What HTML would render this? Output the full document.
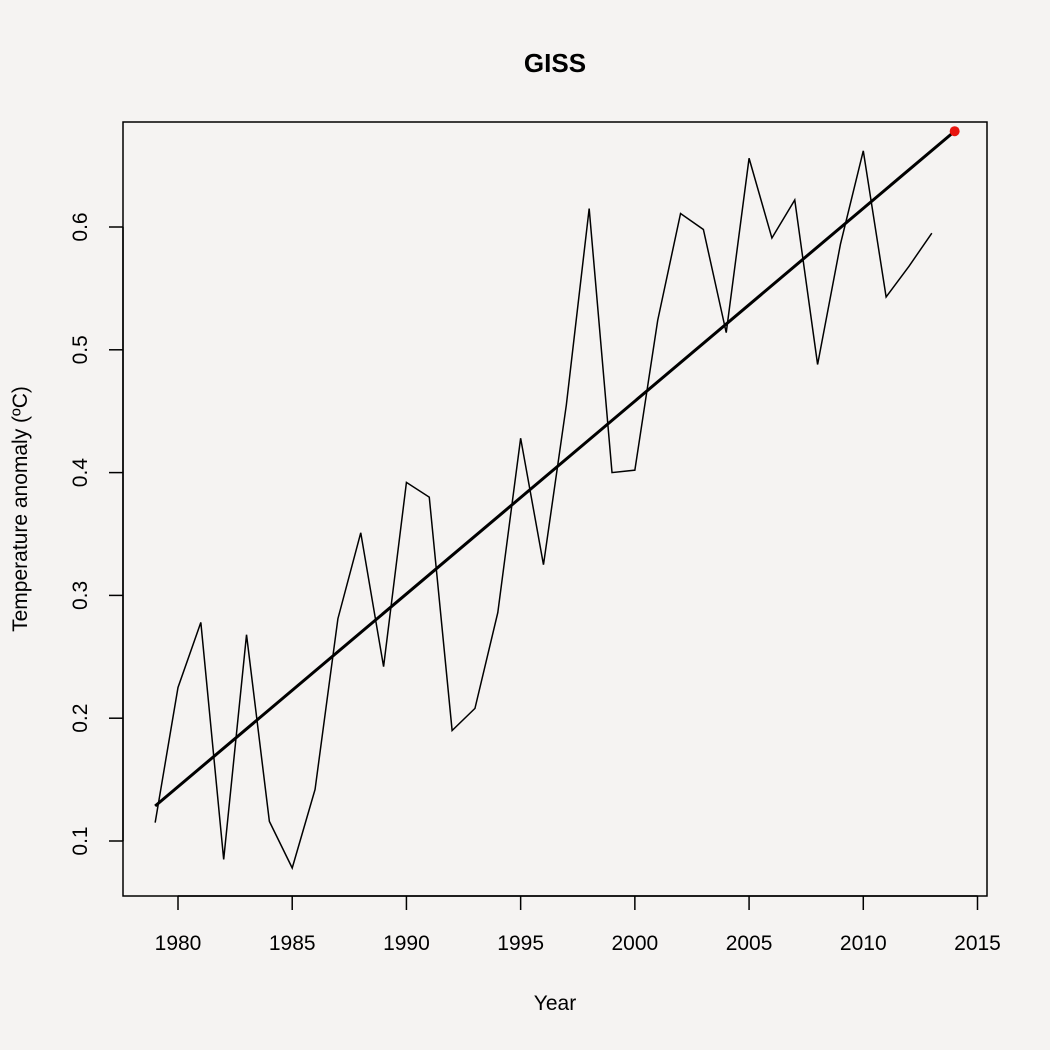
<!DOCTYPE html>
<html><head><meta charset="utf-8"><style>
html,body{margin:0;padding:0;background:#f5f3f2;}
svg{display:block;font-family:"Liberation Sans",sans-serif;}
</style></head><body>
<svg id="chart" width="1050" height="1050" viewBox="0 0 1050 1050">
<rect x="0" y="0" width="1050" height="1050" fill="#f5f3f2"/>
<text x="555" y="72" text-anchor="middle" font-size="26" font-weight="bold">GISS</text>
<rect x="123" y="122" width="864" height="774" fill="none" stroke="#000" stroke-width="1.5"/>
<g id="xaxis"></g>
<g id="yaxis"></g>
<text x="555" y="1010" text-anchor="middle" font-size="21">Year</text>
<text transform="translate(27,509) rotate(-90)" text-anchor="middle" font-size="21">Temperature anomaly (ºC)</text>
<g id="marks"></g>
</svg>
<script>
const years = [1979,1980,1981,1982,1983,1984,1985,1986,1987,1988,1989,1990,1991,1992,1993,1994,1995,1996,1997,1998,1999,2000,2001,2002,2003,2004,2005,2006,2007,2008,2009,2010,2011,2012,2013];
const anomalies = [0.115,0.225,0.278,0.085,0.268,0.116,0.078,0.142,0.281,0.351,0.242,0.392,0.380,0.190,0.208,0.286,0.428,0.325,0.455,0.615,0.400,0.402,0.524,0.611,0.598,0.514,0.656,0.591,0.622,0.488,0.586,0.662,0.543,0.568,0.595];
const trendYears = [1979,2014];
const trendValues = [0.1285,0.678];
const forecastYear = [2014];
const forecastValue = [0.678];
const xTicks = [1980,1985,1990,1995,2000,2005,2010,2015];
const yTicks = [0.1,0.2,0.3,0.4,0.5,0.6];
const yTickLabels = ["0.1","0.2","0.3","0.4","0.5","0.6"];

const NS="http://www.w3.org/2000/svg";
function xs(v){return 178+(v-1980)*(977.5-178)/35;}
function ys(v){return 841-(v-0.1)*(841-227)/0.5;}
function mk(t,a,p){const e=document.createElementNS(NS,t);for(const k in a)e.setAttribute(k,a[k]);p.appendChild(e);return e;}
const xa=document.getElementById('xaxis'),ya=document.getElementById('yaxis'),m=document.getElementById('marks');
mk('line',{x1:xs(xTicks[0]),x2:xs(xTicks[xTicks.length-1]),y1:896,y2:896,stroke:'#000','stroke-width':1.5},xa);
xTicks.forEach(t=>{
 const l=mk('line',{x1:xs(t),x2:xs(t),y1:896,y2:910,stroke:'#000','stroke-width':1.5},xa);
 
 
 const tx=mk('text',{x:xs(t),y:950,'text-anchor':'middle','font-size':21},xa);tx.textContent=t;
 
 
});
mk('line',{x1:123,x2:123,y1:ys(yTicks[0]),y2:ys(yTicks[yTicks.length-1]),stroke:'#000','stroke-width':1.5},ya);
yTicks.forEach((t,i)=>{
 const l=mk('line',{x1:109,x2:123,y1:ys(t),y2:ys(t),stroke:'#000','stroke-width':1.5},ya);
 
 
 const tx=mk('text',{transform:`translate(87,${ys(t)}) rotate(-90)`,'text-anchor':'middle','font-size':21},ya);tx.textContent=yTickLabels[i];
 
 
});
const pl=mk('polyline',{points:years.map((y,i)=>xs(y)+','+ys(anomalies[i])).join(' '),fill:'none',stroke:'#000','stroke-width':1.5},m);


const tl=mk('line',{x1:xs(trendYears[0]),y1:ys(trendValues[0]),x2:xs(trendYears[1]),y2:ys(trendValues[1]),stroke:'#000','stroke-width':3},m);


const c=mk('circle',{cx:xs(forecastYear[0]),cy:ys(forecastValue[0]),r:5,fill:'#e8140e'},m);


</script>
</body></html>
